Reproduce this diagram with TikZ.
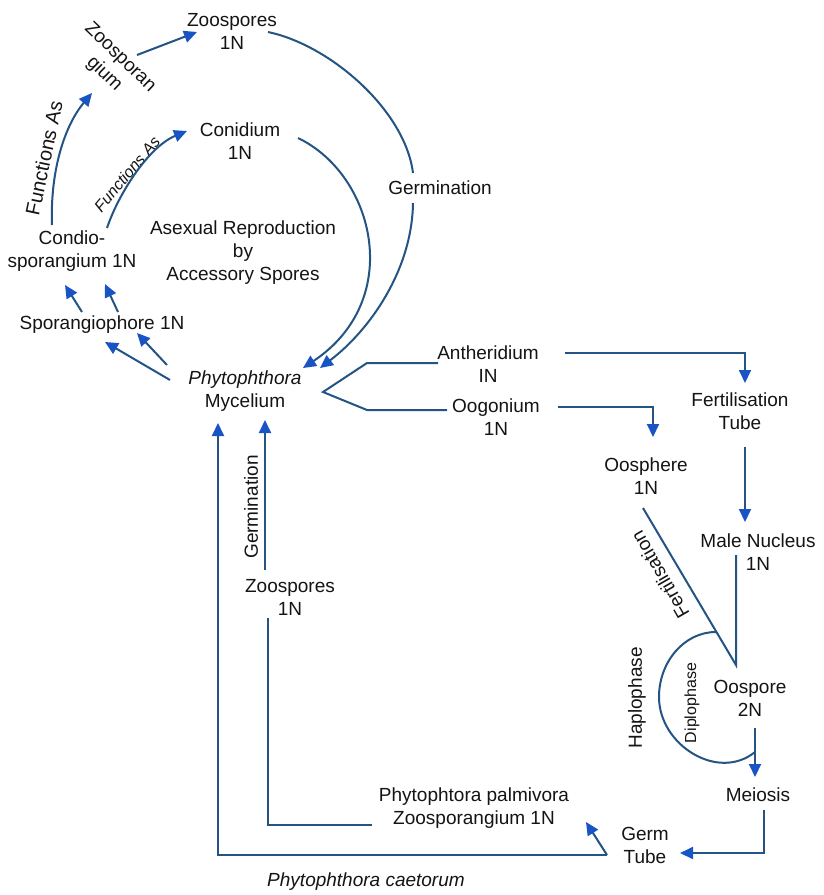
\documentclass[tikz,border=0pt]{standalone}
\usepackage{fontspec}
\setmainfont{Liberation Sans}
\usetikzlibrary{arrows.meta,calc}
\definecolor{lineblue}{RGB}{36,84,132}
\definecolor{tipblue}{RGB}{24,84,196}
\definecolor{txt}{RGB}{20,20,20}
\begin{document}
\begin{tikzpicture}[x=1pt,y=-1pt,
  lbl/.style={font=\fontsize{19}{23}\selectfont, align=center, inner sep=1pt, text=txt},
  ln/.style={draw=lineblue, line width=2pt},
  arr/.style={ln, -{Triangle[length=13pt,width=12pt,color=tipblue]}}]
\useasboundingbox[fill=white] (0,0) rectangle (823,895);
% nodes
\node[lbl] (zsTop) at (232,31) {Zoospores\\1N};
\node[lbl,rotate=-44] (zsang) at (112,66) {Zoosporan\\gium};
\node[lbl] (con) at (240,141) {Conidium\\1N};
\node[lbl] (cond) at (72,251) {Condio-\\sporangium 1N};
\node[lbl] (asex) at (243,253) {Asexual Reproduction\\by\\Accessory Spores};
\node[lbl] (spor) at (102,325) {Sporangiophore 1N};
\node[lbl] (myc) at (245,391) {\textit{Phytophthora}\\Mycelium};
\node[lbl] (germ1) at (440,188) {Germination};
\node[lbl] (anth) at (488,364) {Antheridium\\IN};
\node[lbl] (oog) at (496,417) {Oogonium\\1N};
\node[lbl] (fert) at (740,411) {Fertilisation\\Tube};
\node[lbl] (oosph) at (646,476) {Oosphere\\1N};
\node[lbl] (male) at (758,552) {Male Nucleus\\1N};
\node[lbl,rotate=120] (fertl) at (660,575) {Fertilisation};
\node[lbl,rotate=90] (hap) at (637,698) {Haplophase};
\node[lbl,rotate=90,font=\fontsize{16}{19}\selectfont] (dip) at (692,703) {Diplophase};
\node[lbl] (oosp) at (750,698) {Oospore\\2N};
\node[lbl] (mei) at (758,795) {Meiosis};
\node[lbl] (gt) at (645,845) {Germ\\Tube};
\node[lbl,rotate=90] (germ2) at (251,507) {Germination};
\node[lbl] (zsBot) at (290,597) {Zoospores\\1N};
\node[lbl] (palm) at (474,808) {Phytophtora palmivora\\Zoosporangium 1N};
\node[lbl,font=\fontsize{19}{23}\selectfont\itshape] (caet) at (366,882) {Phytophthora caetorum};
\node[lbl,rotate=78,font=\fontsize{20}{24}\selectfont] (fa1) at (44,158) {Functions As};
\node[lbl,rotate=50,font=\fontsize{16}{19}\selectfont\itshape] (fa2) at (127,174) {Functions As};
% connectors
\draw[arr] ([shift={(25,-11)}]zsang.center) -- ([shift={(-35,1)}]zsTop.center);
\draw[arr] ([shift={(-20,-26)}]cond.center) .. controls (50,170) and (65,125) .. ([shift={(-20,27)}]zsang.center);
\draw[arr] ([shift={(35,-23)}]cond.center) .. controls (118,195) and (148,147) .. ([shift={(-53,-10)}]con.center);
\draw[arr] ([shift={(-20,-13)}]spor.center) -- ([shift={(-7,34)}]cond.center);
\draw[arr] ([shift={(16,-13)}]spor.center) -- ([shift={(33,33)}]cond.center);
\draw[arr] ([shift={(-75,-11)}]myc.center) -- ([shift={(3,17)}]spor.center);
\draw[arr] ([shift={(-78,-26)}]myc.center) -- ([shift={(35,8)}]spor.center);
\draw[arr] ([shift={(58,-3)}]con.center) .. controls (375,175) and (405,300) .. ([shift={(58,-23)}]myc.center);
\draw[ln] ([shift={(36,1)}]zsTop.center) .. controls (330,45) and (405,110) .. ([shift={(-27,-15)}]germ1.center);
\draw[arr] ([shift={(-27,15)}]germ1.center) .. controls (412,270) and (370,330) .. ([shift={(75,-23)}]myc.center);
\draw[ln] ([shift={(-50,-1)}]anth.center) -- (367,363) -- ([shift={(78,1)}]myc.center) -- (367,410) -- ([shift={(-49,-7)}]oog.center);
\draw[arr] ([shift={(77,-11)}]anth.center) -| ([shift={(5,-28)}]fert.center);
\draw[arr] ([shift={(62,-10)}]oog.center) -| ([shift={(7,-39)}]oosph.center);
\draw[arr] ([shift={(5,36)}]fert.center) -- ([shift={(-13,-30)}]male.center);
\draw[ln] ([shift={(-3,32)}]oosph.center) -- ([shift={(-14,-33)}]oosp.center) -- ([shift={(-22,3)}]male.center);
\draw[ln] (716,632) .. controls (684,632) and (659,662) .. (659,697) .. controls (659,745) and (718,782) .. (755,752);
\draw[arr] ([shift={(5,30)}]oosp.center) -- ([shift={(-3,-18)}]mei.center);
\draw[arr] ([shift={(6,15)}]mei.center) |- ([shift={(35,8)}]gt.center);
\coordinate (gv) at ([shift={(-38,10)}]gt.center);
\draw[arr] (gv) -- ([shift={(112,14)}]palm.center);
\draw[arr] (gv) -| ([shift={(-27,32)}]myc.center);
\draw[arr] ([shift={(-25,-27)}]zsBot.center) -- ([shift={(20,29)}]myc.center);
\draw[ln] ([shift={(-22,21)}]zsBot.center) |- ([shift={(-102,17)}]palm.center);
\end{tikzpicture}
\end{document}
